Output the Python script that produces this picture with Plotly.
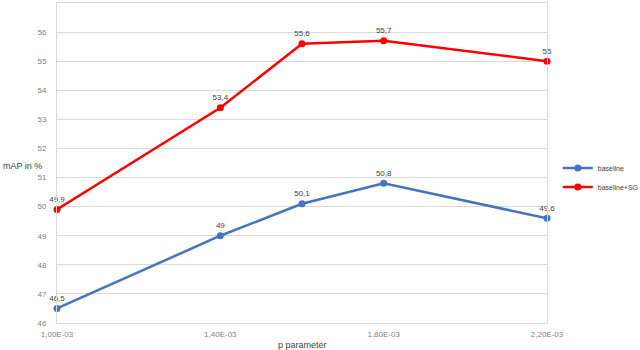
import plotly.graph_objects as go

p_values = [1.0e-3, 1.4e-3, 1.6e-3, 1.8e-3, 2.2e-3]
baseline = [46.5, 49.0, 50.1, 50.8, 49.6]
baseline_sg = [49.9, 53.4, 55.6, 55.7, 55.0]
x_tickvals = [1.0e-3, 1.4e-3, 1.8e-3, 2.2e-3]
x_ticktext = ["1,00E-03", "1,40E-03", "1,80E-03", "2,20E-03"]

def fmt(v):
    return ("%g" % v).replace(".", ",")

fig = go.Figure()
fig.add_trace(go.Scatter(x=p_values, y=baseline, mode="lines+markers+text", name="baseline",
                         line=dict(color="#4472C4", width=2.5), marker=dict(size=7, color="#4472C4"),
                         text=[fmt(v) for v in baseline], textposition="top center",
                         textfont=dict(size=8, color="#404040")))
fig.add_trace(go.Scatter(x=p_values, y=baseline_sg, mode="lines+markers+text", name="baseline+SG",
                         line=dict(color="#FF0000", width=2.5), marker=dict(size=7, color="#FF0000"),
                         text=[fmt(v) for v in baseline_sg], textposition="top center",
                         textfont=dict(size=8, color="#404040")))

fig.update_layout(
    width=640, height=350,
    margin=dict(l=57, r=93, t=3, b=27, autoexpand=False),
    paper_bgcolor="white", plot_bgcolor="white",
    font=dict(family="Liberation Sans, Arial", size=8, color="#7f7f7f"),
    showlegend=True,
    legend=dict(x=1.022, y=0.455, xanchor="left", yanchor="middle", font=dict(size=7, color="#404040"),
                bgcolor="rgba(0,0,0,0)", itemwidth=30, tracegroupgap=0),
    xaxis=dict(range=[1.0e-3, 2.2e-3], tickvals=x_tickvals, ticktext=x_ticktext, showgrid=False,
               showline=True, linecolor="#d9d9d9", linewidth=1, mirror=True, zeroline=False,
               ticks="outside", ticklen=3, tickcolor="rgba(0,0,0,0)",
               tickfont=dict(size=8, color="#7f7f7f"), automargin=False),
    yaxis=dict(range=[46, 57], dtick=1, showgrid=True, gridcolor="#d9d9d9", gridwidth=1,
               showline=True, linecolor="#d9d9d9", linewidth=1, mirror=True, zeroline=False,
               ticks="outside", ticklen=8, tickcolor="rgba(0,0,0,0)",
               tickfont=dict(size=8, color="#7f7f7f"), automargin=False),
    annotations=[
        dict(text="mAP in %", xref="paper", yref="paper", x=-0.114, y=0.49,
             xanchor="left", yanchor="middle", showarrow=False,
             font=dict(size=9, color="#404040")),
        dict(text="p parameter", xref="paper", yref="paper", x=0.5, y=-0.07,
             xanchor="center", yanchor="middle", showarrow=False,
             font=dict(size=9, color="#404040")),
    ],
)
fig.update_traces(cliponaxis=False)
fig.write_html("out.html", config={"displayModeBar": False},
               post_script="document.body.style.margin='0';")
